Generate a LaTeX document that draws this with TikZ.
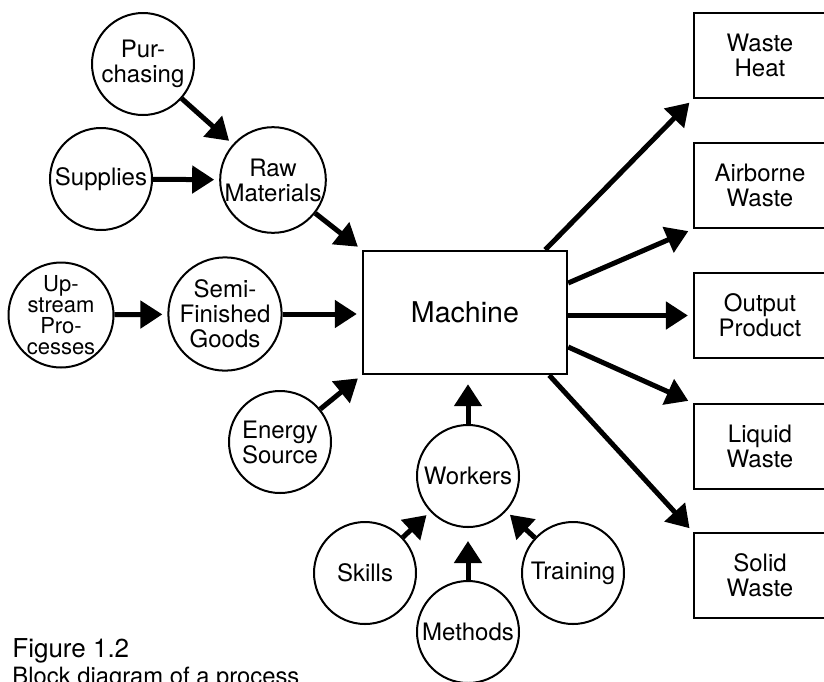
\documentclass[tikz,border=0pt]{standalone}
\usepackage{fontspec}
\setmainfont{TeX Gyre Heros}
\usetikzlibrary{arrows.meta}

\begin{document}
\begin{tikzpicture}[x=0.5pt,y=-0.5pt,
  blob/.style={draw,circle,line width=1pt,minimum size=51pt,inner sep=0pt,
    align=center,font=\fontsize{12}{12.5}\selectfont},
  outbox/.style={draw,rectangle,line width=1.1pt,minimum width=66pt,
    minimum height=42.5pt,align=center,font=\fontsize{12}{12.5}\selectfont},
  flow/.style={line width=2.5pt,-{Triangle[length=11pt,width=13.5pt]},shorten >=2.5pt}]
\useasboundingbox (0,0) rectangle (824,681);

% inputs
\node[blob] (purch) at (143,64) {Pur-\\chasing};
\node[blob] (supp) at (101,179) {Supplies};
\node[blob] (raw) at (273,180) {Raw\\Materials};
\node[blob,font=\fontsize{11}{10.6}\selectfont] (up) at (61,315) {Up-\\stream\\Pro-\\cesses};
\node[blob] (semi) at (225,314) {Semi-\\Finished\\Goods};
\node[blob] (energy) at (280,442) {Energy\\Source};

\node[draw,line width=1.2pt,minimum width=102pt,minimum height=61.5pt,
  font=\fontsize{14.3}{16}\selectfont] (machine) at (465,312.5) {Machine};

\node[blob] (workers) at (468,476) {Workers};
\node[blob] (skills) at (365,573) {Skills};
\node[blob] (methods) at (468,632) {Methods};
\node[blob] (training) at (573,573) {Training};

% outputs
\node[outbox] (heat) at (760,55.5) {Waste\\Heat};
\node[outbox] (air) at (760,185.5) {Airborne\\Waste};
\node[outbox] (output) at (760,315.5) {Output\\Product};
\node[outbox] (liquid) at (760,446.5) {Liquid\\Waste};
\node[outbox] (solid) at (760,575.5) {Solid\\Waste};

\draw[flow] (purch) -- (raw);
\draw[flow] (supp) -- (raw);
\draw[flow] (raw) -- (machine.north west);
\draw[flow] (up) -- (semi);
\draw[flow] (semi) -- (semi -| machine.west);
\draw[flow] (energy) -- (machine.south west);
\draw[flow,shorten >=4.5pt] (workers) -- (workers |- machine.south);
\draw[flow] (skills) -- (workers);
\draw[flow,shorten >=6.5pt] (methods) -- (workers);
\draw[flow] (training) -- (workers);

\draw[flow] ([xshift=-11.5pt]machine.north east) -- (heat.south west);
\draw[flow] ([yshift=14.75pt]machine.east) -- (air.south west);
\draw[flow] (output.west -| machine.east) -- (output.west);
\draw[flow] ([yshift=-17.25pt]machine.east) -- (liquid.north west);
\draw[flow] ([xshift=-9.5pt]machine.south east) -- (solid.north west);

\node[anchor=base west,inner sep=0pt,font=\fontsize{13}{15}\selectfont] (fig) at (12,657) {Figure 1.2};
\node[anchor=base west,inner sep=0pt,font=\fontsize{11.9}{14}\selectfont] (caption) at (12,684) {Block diagram of a process};
\end{tikzpicture}
\end{document}
